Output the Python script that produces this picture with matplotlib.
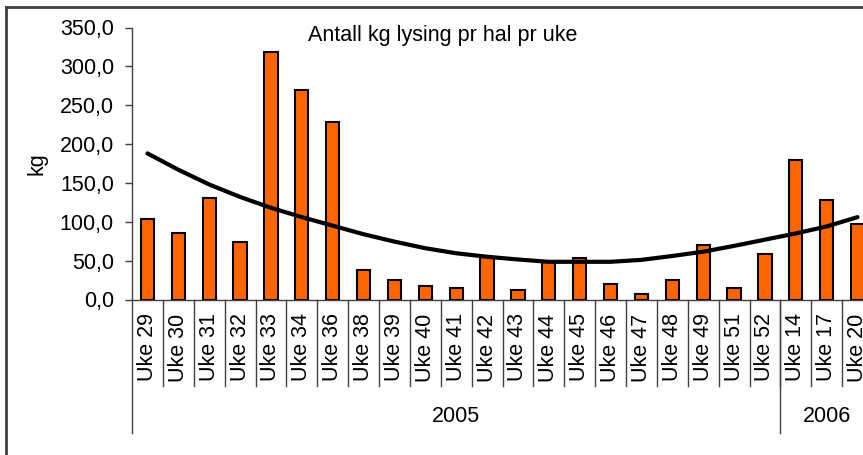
import matplotlib
matplotlib.use("Agg")
import matplotlib.pyplot as plt
import matplotlib.transforms as mtransforms
from matplotlib.lines import Line2D

plt.rcParams['font.family'] = ['Liberation Sans', 'DejaVu Sans']

# ---- data ----
categories = ["Uke 29", "Uke 30", "Uke 31", "Uke 32", "Uke 33", "Uke 34", "Uke 36",
              "Uke 38", "Uke 39", "Uke 40", "Uke 41", "Uke 42", "Uke 43", "Uke 44",
              "Uke 45", "Uke 46", "Uke 47", "Uke 48", "Uke 49", "Uke 51", "Uke 52",
              "Uke 14", "Uke 17", "Uke 20"]
values = [103, 85, 131, 74, 319, 270, 229, 38, 25.5, 18, 15, 55, 12.5, 48,
          54, 20.5, 7.5, 25.5, 69.5, 15, 59, 180, 128, 97.5]
trend = [188, 167, 148, 132, 118, 106, 95, 84, 74.5, 66, 59.5, 55, 51.5, 48.5,
         48.5, 48.5, 51, 56, 61.5, 69, 77, 85, 94, 106]
groups = ["2005", "2006"]
group_sizes = [21, 3]
yticks = [0, 50, 100, 150, 200, 250, 300, 350]
title = "Antall kg lysing pr hal pr uke"
ylabel = "kg"

FS = 15.5
W, H = 863, 455
fig = plt.figure(figsize=(W / 100, H / 100), dpi=100)
fig.patch.set_facecolor("white")

L, R, T, B = 132, 873, 27.5, 299.5
ax = fig.add_axes([L / W, 1 - B / H, (R - L) / W, (B - T) / H])

x = list(range(len(categories)))
ax.bar(x, values, width=0.43, color="#FF6600", edgecolor="black", linewidth=1.5, zorder=2)
ax.plot(x, trend, color="black", linewidth=3, zorder=3, solid_capstyle="round")

ax.set_xlim(-0.5, len(categories) - 0.5)
ax.set_ylim(0, 350)
ax.set_yticks(yticks)
ax.set_yticklabels([f"{v:.1f}".replace(".", ",") for v in yticks], fontsize=FS)
ax.tick_params(axis="y", length=5, width=1, color="#404040", pad=8)

ax.set_xticks(x)
ax.set_xticklabels(categories, rotation=90, fontsize=FS, va="top")
ax.tick_params(axis="x", length=0, pad=10)

for s in ["top", "right"]:
    ax.spines[s].set_visible(False)
for s in ["left", "bottom"]:
    ax.spines[s].set_color("#404040")
    ax.spines[s].set_linewidth(1)

trans = mtransforms.blended_transform_factory(ax.transData, ax.transAxes)
ah = B - T
sep_bottom = -(386 - B) / ah
grp_bottom = -(433 - B) / ah
# category separators
for i in range(1, len(categories)):
    ax.plot([i - 0.5, i - 0.5], [0, sep_bottom], transform=trans, color="#404040",
            linewidth=1, clip_on=False)
# group separators and labels
start = 0
bounds = [0]
for g, n in zip(groups, group_sizes):
    end = start + n
    bounds.append(end)
    ax.text((start + end) / 2 - 0.5, -(417 - B) / ah, g, transform=trans,
            ha="center", va="center", fontsize=FS)
    start = end
for b in bounds:
    ax.plot([b - 0.5, b - 0.5], [0, grp_bottom], transform=trans, color="#404040",
            linewidth=1, clip_on=False)

fig.text(443 / W, 1 - 36 / H, title, ha="center", va="center", fontsize=FS)
fig.text(37 / W, 1 - 164 / H, ylabel, ha="center", va="center", rotation=90, fontsize=FS)

# outer frame (left and top edges visible)
fig.add_artist(Line2D([6 / W, 6 / W], [0, 1 - 7 / H], transform=fig.transFigure,
                      color="#404040", linewidth=2))
fig.add_artist(Line2D([6 / W, 1], [1 - 7 / H, 1 - 7 / H], transform=fig.transFigure,
                      color="#404040", linewidth=2))

fig.savefig("out.png", dpi=100)
